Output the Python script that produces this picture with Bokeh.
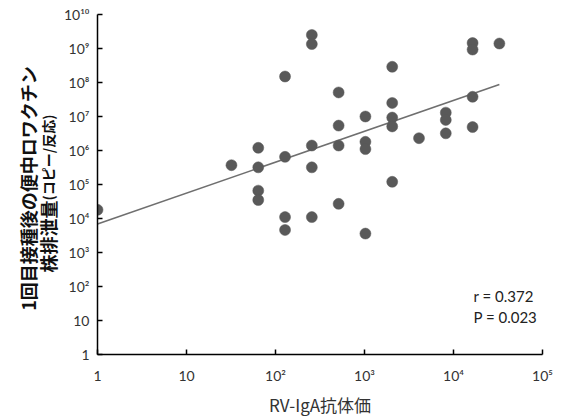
import math
from bokeh.plotting import figure
from bokeh.layouts import row
from bokeh.models import Range1d, FixedTicker, Label, ColumnDataSource
from bokeh.embed import file_html
from bokeh.resources import INLINE

# --- data ---
iga_titer = [1, 32,
             64, 64, 64, 64,
             128, 128, 128, 128,
             256, 256, 256, 256, 256,
             512, 512, 512, 512,
             1024, 1024, 1024, 1024,
             2048, 2048, 2048, 2048, 2048,
             4096,
             8192, 8192, 8192,
             16384, 16384, 16384, 16384,
             32768]
shedding = [1.8e4, 3.7e5,
            1.2e6, 3.2e5, 6.6e4, 3.5e4,
            1.5e8, 6.5e5, 1.1e4, 4.6e3,
            2.5e9, 1.35e9, 1.4e6, 3.2e5, 1.1e4,
            5.1e7, 5.4e6, 1.4e6, 2.7e4,
            1.0e7, 1.8e6, 1.1e6, 3.6e3,
            2.9e8, 2.5e7, 9.3e6, 5.1e6, 1.2e5,
            2.3e6,
            1.3e7, 7.9e6, 3.2e6,
            1.45e9, 9.3e8, 3.8e7, 4.9e6,
            1.4e9]
fit_x = [1, 32768]
fit_y = [6.9e3, 8.7e7]

x_ticks = [1, 10, 100, 1000, 10000, 100000]
x_tick_labels = ["1", "10", "10²", "10³", "10⁴", "10⁵"]
y_ticks = [1, 10, 100, 1e3, 1e4, 1e5, 1e6, 1e7, 1e8, 1e9, 1e10]
y_tick_labels = ["1", "10", "10²", "10³", "10⁴", "10⁵", "10⁶", "10⁷", "10⁸", "10⁹", "10¹⁰"]

x_title = "RV-IgA抗体価"
y_title_1 = "1回目接種後の便中ロワクチン"
y_title_2a = "株排泄量"
y_title_2b = "(コピー/反応)"
stats = ["r = 0.372", "P = 0.023"]

FONT = "Lato"
JP = "Noto Sans CJK JP"
H = 420
LEFT_W = 60

# ---------- main chart ----------
p = figure(width=571 - LEFT_W, height=H, x_axis_type="log", y_axis_type="log",
           x_range=Range1d(1, 1e5), y_range=Range1d(1, 1e10),
           output_backend="svg", toolbar_location=None,
           min_border_left=96 - LEFT_W, min_border_right=29,
           min_border_top=14, min_border_bottom=66)
p.outline_line_color = None
p.xgrid.grid_line_color = None
p.ygrid.grid_line_color = None
p.background_fill_color = "white"
p.border_fill_color = "white"

src = ColumnDataSource(dict(x=iga_titer, y=shedding))
p.line(fit_x, fit_y, line_color="#6f6f6f", line_width=1.6)
p.scatter("x", "y", source=src, size=11, fill_color="#595959",
          line_color="#595959", line_width=0.5)

for ax, ticks, labels in ((p.xaxis[0], x_ticks, x_tick_labels),
                          (p.yaxis[0], y_ticks, y_tick_labels)):
    ax.ticker = FixedTicker(ticks=ticks)
    ax.major_label_overrides = {t: l for t, l in zip(ticks, labels)}
    ax.minor_tick_line_color = None
    ax.major_tick_in = 5
    ax.major_tick_out = 0
    ax.axis_line_color = "black"
    ax.axis_line_width = 1.5
    ax.major_tick_line_color = "black"
    ax.major_tick_line_width = 1.5
    ax.major_label_text_font = FONT
    ax.major_label_text_font_size = "14px"
    ax.major_label_text_color = "#333333"

p.xaxis.major_label_standoff = 12
p.yaxis.major_label_standoff = 8
p.xaxis.axis_label = x_title
p.xaxis.axis_label_text_font = JP
p.xaxis.axis_label_text_font_style = "normal"
p.xaxis.axis_label_text_font_size = "17px"
p.xaxis.axis_label_text_color = "#333333"
p.xaxis.axis_label_standoff = 5

for i, s in enumerate(stats):
    p.add_layout(Label(x=376, y=59 - 21 * i, x_units="screen", y_units="screen", text=s,
                       text_align="left", text_baseline="middle",
                       text_font=FONT, text_font_size="15px", text_color="#222222"))

# ---------- left strip holding the two-line rotated y title ----------
# (its frame is aligned with the main chart's frame: page y 14..354)
t = figure(width=LEFT_W, height=H, x_range=Range1d(0, LEFT_W), y_range=Range1d(0, H),
           output_backend="svg", toolbar_location=None,
           x_axis_location=None, y_axis_location=None,
           min_border_left=0, min_border_right=0, min_border_top=0, min_border_bottom=0)
t.outline_line_color = None
t.xgrid.grid_line_color = None
t.ygrid.grid_line_color = None
t.border_fill_color = "white"
t.background_fill_color = "white"

t.add_layout(Label(x=27, y=166, x_units="screen", y_units="screen", text=y_title_1,
                   angle=math.pi / 2, text_align="center", text_baseline="middle",
                   text_font=JP, text_font_size="18px", text_font_style="bold",
                   text_color="#111111"))
t.add_layout(Label(x=47, y=154, x_units="screen", y_units="screen", text=y_title_2a,
                   angle=math.pi / 2, text_align="right", text_baseline="middle",
                   text_font=JP, text_font_size="18px", text_font_style="bold",
                   text_color="#111111"))
t.add_layout(Label(x=47, y=154, x_units="screen", y_units="screen", text=y_title_2b,
                   angle=math.pi / 2, text_align="left", text_baseline="middle",
                   text_font=JP, text_font_size="14px", text_font_style="bold",
                   text_color="#111111"))

layout = row(t, p)
open("out.html", "w").write(file_html(layout, INLINE))
